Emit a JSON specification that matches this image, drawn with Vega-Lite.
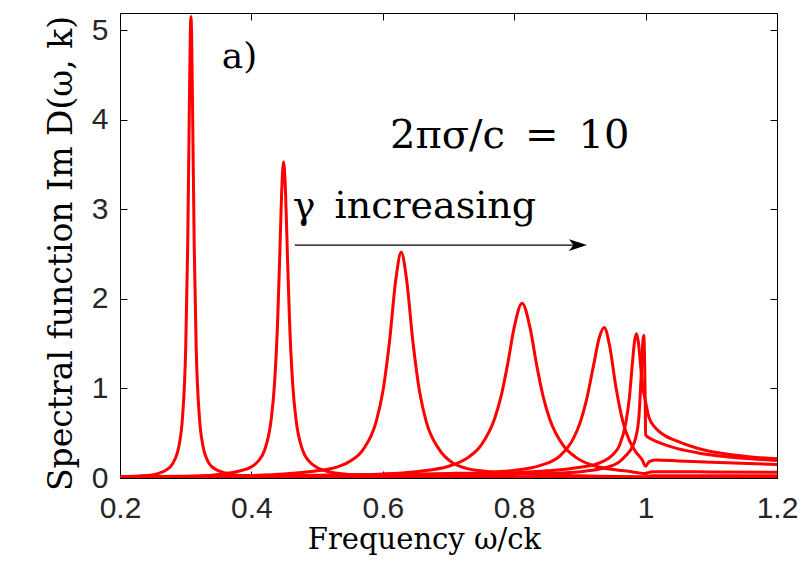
{
  "$schema": "https://vega.github.io/schema/vega-lite/v6.json",
  "width": 657,
  "height": 465,
  "autosize": {"type": "none"},
  "padding": {"left": 120, "top": 13, "right": 34, "bottom": 83},
  "background": "white",
  "datasets": {
    "curves": [
      {"c": 1, "w": 0.2, "v": 0.015}, {"c": 1, "w": 0.24, "v": 0.028}, {"c": 1, "w": 0.26, "v": 0.055},
      {"c": 1, "w": 0.27, "v": 0.088}, {"c": 1, "w": 0.28, "v": 0.159}, {"c": 1, "w": 0.29, "v": 0.369},
      {"c": 1, "w": 0.295, "v": 0.664}, {"c": 1, "w": 0.3, "v": 1.447}, {"c": 1, "w": 0.303, "v": 2.575},
      {"c": 1, "w": 0.305, "v": 3.79}, {"c": 1, "w": 0.307, "v": 4.95}, {"c": 1, "w": 0.308, "v": 5.15},
      {"c": 1, "w": 0.309, "v": 4.95}, {"c": 1, "w": 0.311, "v": 3.79}, {"c": 1, "w": 0.313, "v": 2.575},
      {"c": 1, "w": 0.316, "v": 1.447}, {"c": 1, "w": 0.321, "v": 0.664}, {"c": 1, "w": 0.326, "v": 0.369},
      {"c": 1, "w": 0.336, "v": 0.159}, {"c": 1, "w": 0.346, "v": 0.095}, {"c": 1, "w": 0.356, "v": 0.065},
      {"c": 1, "w": 0.376, "v": 0.035}, {"c": 1, "w": 0.4, "v": 0.02}, {"c": 1, "w": 0.45, "v": 0.01},
      {"c": 1, "w": 0.6, "v": 0.005}, {"c": 1, "w": 0.8, "v": 0.004}, {"c": 1, "w": 1.0, "v": 0.003},
      {"c": 1, "w": 1.2, "v": 0.003},

      {"c": 2, "w": 0.2, "v": 0.01}, {"c": 2, "w": 0.3, "v": 0.018}, {"c": 2, "w": 0.35, "v": 0.04},
      {"c": 2, "w": 0.38, "v": 0.075}, {"c": 2, "w": 0.4, "v": 0.125}, {"c": 2, "w": 0.41, "v": 0.185},
      {"c": 2, "w": 0.42, "v": 0.31}, {"c": 2, "w": 0.43, "v": 0.647}, {"c": 2, "w": 0.435, "v": 1.03},
      {"c": 2, "w": 0.44, "v": 1.765}, {"c": 2, "w": 0.443, "v": 2.444}, {"c": 2, "w": 0.446, "v": 3.177},
      {"c": 2, "w": 0.449, "v": 3.53}, {"c": 2, "w": 0.452, "v": 3.177}, {"c": 2, "w": 0.455, "v": 2.444},
      {"c": 2, "w": 0.458, "v": 1.765}, {"c": 2, "w": 0.463, "v": 1.03}, {"c": 2, "w": 0.468, "v": 0.647},
      {"c": 2, "w": 0.478, "v": 0.31}, {"c": 2, "w": 0.488, "v": 0.185}, {"c": 2, "w": 0.498, "v": 0.125},
      {"c": 2, "w": 0.518, "v": 0.07}, {"c": 2, "w": 0.548, "v": 0.04}, {"c": 2, "w": 0.6, "v": 0.02},
      {"c": 2, "w": 0.7, "v": 0.01}, {"c": 2, "w": 0.8, "v": 0.007}, {"c": 2, "w": 0.9, "v": 0.006},
      {"c": 2, "w": 1.0, "v": 0.005}, {"c": 2, "w": 1.01, "v": 0.012}, {"c": 2, "w": 1.2, "v": 0.012},

      {"c": 3, "w": 0.2, "v": 0.01}, {"c": 3, "w": 0.3, "v": 0.015}, {"c": 3, "w": 0.4, "v": 0.028},
      {"c": 3, "w": 0.45, "v": 0.045}, {"c": 3, "w": 0.5, "v": 0.08}, {"c": 3, "w": 0.53, "v": 0.121},
      {"c": 3, "w": 0.55, "v": 0.186}, {"c": 3, "w": 0.57, "v": 0.317}, {"c": 3, "w": 0.59, "v": 0.633},
      {"c": 3, "w": 0.6, "v": 0.962}, {"c": 3, "w": 0.61, "v": 1.51}, {"c": 3, "w": 0.62, "v": 2.226},
      {"c": 3, "w": 0.628, "v": 2.52}, {"c": 3, "w": 0.636, "v": 2.226}, {"c": 3, "w": 0.646, "v": 1.51},
      {"c": 3, "w": 0.656, "v": 0.962}, {"c": 3, "w": 0.666, "v": 0.633}, {"c": 3, "w": 0.686, "v": 0.317},
      {"c": 3, "w": 0.706, "v": 0.17}, {"c": 3, "w": 0.726, "v": 0.11}, {"c": 3, "w": 0.756, "v": 0.075},
      {"c": 3, "w": 0.8, "v": 0.05}, {"c": 3, "w": 0.9, "v": 0.025}, {"c": 3, "w": 1.0, "v": 0.015},
      {"c": 3, "w": 1.01, "v": 0.026}, {"c": 3, "w": 1.2, "v": 0.026},

      {"c": 4, "w": 0.2, "v": 0.012}, {"c": 4, "w": 0.4, "v": 0.02}, {"c": 4, "w": 0.5, "v": 0.028},
      {"c": 4, "w": 0.6, "v": 0.045}, {"c": 4, "w": 0.65, "v": 0.07}, {"c": 4, "w": 0.7, "v": 0.131},
      {"c": 4, "w": 0.73, "v": 0.23}, {"c": 4, "w": 0.75, "v": 0.37}, {"c": 4, "w": 0.77, "v": 0.659},
      {"c": 4, "w": 0.78, "v": 0.912}, {"c": 4, "w": 0.79, "v": 1.268}, {"c": 4, "w": 0.8, "v": 1.681},
      {"c": 4, "w": 0.812, "v": 1.95}, {"c": 4, "w": 0.824, "v": 1.681}, {"c": 4, "w": 0.834, "v": 1.268},
      {"c": 4, "w": 0.844, "v": 0.912}, {"c": 4, "w": 0.854, "v": 0.659}, {"c": 4, "w": 0.874, "v": 0.37},
      {"c": 4, "w": 0.894, "v": 0.23}, {"c": 4, "w": 0.924, "v": 0.131}, {"c": 4, "w": 0.974, "v": 0.075},
      {"c": 4, "w": 1.0, "v": 0.05}, {"c": 4, "w": 1.01, "v": 0.07}, {"c": 4, "w": 1.1, "v": 0.068},
      {"c": 4, "w": 1.2, "v": 0.064},

      {"c": 5, "w": 0.2, "v": 0.015}, {"c": 5, "w": 0.5, "v": 0.03}, {"c": 5, "w": 0.6, "v": 0.04},
      {"c": 5, "w": 0.7, "v": 0.05}, {"c": 5, "w": 0.75, "v": 0.06}, {"c": 5, "w": 0.8, "v": 0.085},
      {"c": 5, "w": 0.84, "v": 0.14}, {"c": 5, "w": 0.87, "v": 0.25}, {"c": 5, "w": 0.89, "v": 0.44},
      {"c": 5, "w": 0.9, "v": 0.612}, {"c": 5, "w": 0.91, "v": 0.87}, {"c": 5, "w": 0.92, "v": 1.227},
      {"c": 5, "w": 0.93, "v": 1.58}, {"c": 5, "w": 0.937, "v": 1.68}, {"c": 5, "w": 0.945, "v": 1.484},
      {"c": 5, "w": 0.955, "v": 1.007}, {"c": 5, "w": 0.965, "v": 0.641}, {"c": 5, "w": 0.975, "v": 0.422},
      {"c": 5, "w": 0.985, "v": 0.292}, {"c": 5, "w": 0.995, "v": 0.2}, {"c": 5, "w": 1.0, "v": 0.13},
      {"c": 5, "w": 1.005, "v": 0.18}, {"c": 5, "w": 1.015, "v": 0.2}, {"c": 5, "w": 1.05, "v": 0.19},
      {"c": 5, "w": 1.1, "v": 0.175}, {"c": 5, "w": 1.2, "v": 0.15},

      {"c": 6, "w": 0.2, "v": 0.015}, {"c": 6, "w": 0.5, "v": 0.025}, {"c": 6, "w": 0.7, "v": 0.04},
      {"c": 6, "w": 0.8, "v": 0.06}, {"c": 6, "w": 0.85, "v": 0.08}, {"c": 6, "w": 0.9, "v": 0.12},
      {"c": 6, "w": 0.93, "v": 0.17}, {"c": 6, "w": 0.95, "v": 0.26}, {"c": 6, "w": 0.96, "v": 0.36},
      {"c": 6, "w": 0.97, "v": 0.62}, {"c": 6, "w": 0.975, "v": 0.875}, {"c": 6, "w": 0.98, "v": 1.288},
      {"c": 6, "w": 0.983, "v": 1.515}, {"c": 6, "w": 0.986, "v": 1.61}, {"c": 6, "w": 0.989, "v": 1.515},
      {"c": 6, "w": 0.992, "v": 1.288}, {"c": 6, "w": 0.996, "v": 1.0}, {"c": 6, "w": 1.0, "v": 0.85},
      {"c": 6, "w": 1.005, "v": 0.68}, {"c": 6, "w": 1.015, "v": 0.56}, {"c": 6, "w": 1.03, "v": 0.47},
      {"c": 6, "w": 1.045, "v": 0.42}, {"c": 6, "w": 1.08, "v": 0.33}, {"c": 6, "w": 1.12, "v": 0.27},
      {"c": 6, "w": 1.16, "v": 0.235}, {"c": 6, "w": 1.2, "v": 0.215},

      {"c": 7, "w": 0.2, "v": 0.012}, {"c": 7, "w": 0.5, "v": 0.02}, {"c": 7, "w": 0.7, "v": 0.03},
      {"c": 7, "w": 0.8, "v": 0.04}, {"c": 7, "w": 0.85, "v": 0.05}, {"c": 7, "w": 0.9, "v": 0.07},
      {"c": 7, "w": 0.93, "v": 0.1}, {"c": 7, "w": 0.95, "v": 0.14}, {"c": 7, "w": 0.96, "v": 0.18},
      {"c": 7, "w": 0.97, "v": 0.25}, {"c": 7, "w": 0.98, "v": 0.35}, {"c": 7, "w": 0.985, "v": 0.45},
      {"c": 7, "w": 0.99, "v": 0.7}, {"c": 7, "w": 0.993, "v": 1.1}, {"c": 7, "w": 0.995, "v": 1.43},
      {"c": 7, "w": 0.9972, "v": 1.59}, {"c": 7, "w": 0.9985, "v": 1.3}, {"c": 7, "w": 0.9995, "v": 0.8},
      {"c": 7, "w": 1.0, "v": 0.48}, {"c": 7, "w": 1.01, "v": 0.43}, {"c": 7, "w": 1.03, "v": 0.37},
      {"c": 7, "w": 1.05, "v": 0.325}, {"c": 7, "w": 1.08, "v": 0.28}, {"c": 7, "w": 1.12, "v": 0.24},
      {"c": 7, "w": 1.16, "v": 0.215}, {"c": 7, "w": 1.2, "v": 0.195}
    ],
    "notes": [
      {"w": 0.355, "v": 4.58, "t": "a)", "s": 36},
      {"w": 0.611, "v": 3.68, "t": "2πσ/c\u2002=\u200210", "s": 40},
      {"w": 0.463, "v": 2.9, "t": "γ\u2002increasing", "s": 38}
    ],
    "arrow": [
      {"w": 0.466, "w2": 0.895, "v": 2.6, "tip": 0.897}
    ]
  },
  "layer": [
    {
      "data": {"name": "curves"},
      "mark": {"type": "line", "color": "#ff0000", "strokeWidth": 3, "interpolate": "monotone", "clip": true},
      "encoding": {
        "x": {
          "field": "w", "type": "quantitative",
          "scale": {"domain": [0.2, 1.2], "nice": false, "zero": false},
          "axis": {"values": [0.2, 0.4, 0.6, 0.8, 1, 1.2], "format": "~g", "title": "Frequency ω/ck",
                   "titleX": 304, "titleY": 47, "titleBaseline": "top", "titleFontSize": 29, "labelPadding": 22}
        },
        "y": {
          "field": "v", "type": "quantitative",
          "scale": {"domain": [0, 5.19], "nice": false},
          "axis": {"values": [0, 1, 2, 3, 4, 5], "format": "d", "title": "Spectral function Im D(ω, k)",
                   "titleX": -42, "titleY": 240, "titleFontSize": 33, "labelPadding": 19}
        },
        "detail": {"field": "c", "type": "nominal"}
      }
    },
    {
      "data": {"name": "notes"},
      "mark": {"type": "text", "font": "DejaVu Serif", "align": "left", "baseline": "alphabetic", "color": "#000"},
      "encoding": {
        "x": {"field": "w", "type": "quantitative",
              "axis": {"orient": "top", "values": [0.2, 0.4, 0.6, 0.8, 1, 1.2], "labels": false, "title": null}},
        "y": {"field": "v", "type": "quantitative",
              "axis": {"orient": "right", "values": [0, 1, 2, 3, 4, 5], "labels": false, "title": null}},
        "text": {"field": "t"},
        "size": {"field": "s", "type": "quantitative", "scale": null}
      }
    },
    {
      "data": {"name": "arrow"},
      "mark": {"type": "rule", "color": "#000", "strokeWidth": 1.2},
      "encoding": {
        "x": {"field": "w", "type": "quantitative", "axis": null},
        "x2": {"field": "w2"},
        "y": {"field": "v", "type": "quantitative", "axis": null}
      }
    },
    {
      "data": {"name": "arrow"},
      "mark": {"type": "point", "shape": "M1,0 L-1,-0.65 L-0.5,0 L-1,0.65 Z", "filled": true, "color": "#000", "opacity": 1, "size": 324},
      "encoding": {
        "x": {"field": "tip", "type": "quantitative", "axis": null},
        "y": {"field": "v", "type": "quantitative", "axis": null}
      }
    }
  ],
  "resolve": {"axis": {"x": "independent", "y": "independent"}},
  "config": {
    "view": {"stroke": "#000", "strokeWidth": 1},
    "axis": {
      "domain": false,
      "grid": false,
      "ticks": true,
      "tickSize": -7,
      "tickColor": "#000",
      "tickWidth": 1,
      "labelFlush": false,
      "labelFont": "Liberation Sans",
      "labelFontSize": 30,
      "labelColor": "#262626",
      "titleFont": "DejaVu Serif",
      "titleFontWeight": "normal",
      "titleColor": "#000"
    }
  }
}
